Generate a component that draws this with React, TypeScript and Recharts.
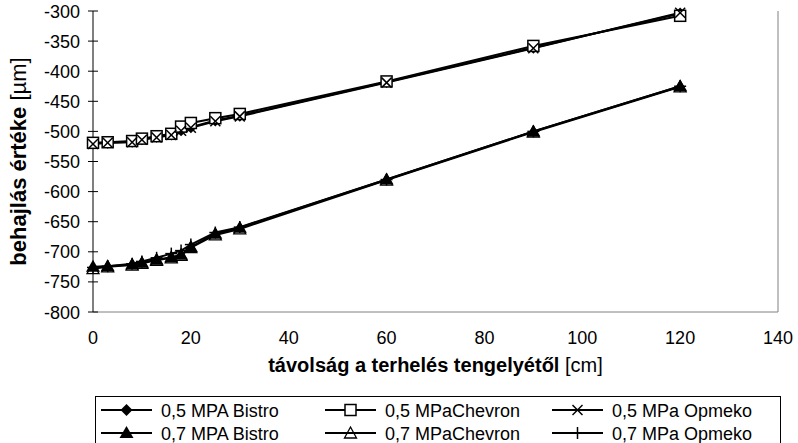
import { LineChart, Line, XAxis, YAxis, ReferenceLine, Label } from 'recharts';

// distance from the load axis [cm]
const distances = [0, 3, 8, 10, 13, 16, 18, 20, 25, 30, 60, 90, 120];

// deflection [µm]
const bistro05 = [-520, -519, -517, -513, -509, -505, -498, -493, -482, -474, -418, -361, -304];
const chevron05 = [-519, -518, -516, -512, -508, -504, -492, -486, -478, -471, -417, -358, -308];
const opmeko05 = [-521, -519, -518, -514, -510, -506, -499, -494, -483, -475, -419, -362, -303];
const bistro07 = [-725, -724, -721, -718, -713, -709, -705, -692, -670, -660, -580, -500, -425];
const chevron07 = [-728, -725, -722, -719, -714, -710, -706, -693, -672, -662, -581, -501, -426];
const opmeko07 = [-726, -724, -720, -716, -710, -703, -698, -688, -668, -659, -580, -500, -425];

const xTicks = [0, 20, 40, 60, 80, 100, 120, 140];
const yTicks = [-800, -750, -700, -650, -600, -550, -500, -450, -400, -350, -300];

const data = distances.map((d, i) => ({
  d,
  b05: bistro05[i],
  c05: chevron05[i],
  o05: opmeko05[i],
  b07: bistro07[i],
  c07: chevron07[i],
  o07: opmeko07[i],
}));

const FONT = 'Arial, "Liberation Sans", sans-serif';
const FS = 18;

type Kind = 'diamond' | 'square' | 'cross' | 'triangle' | 'openTriangle' | 'plus';

function Marker({ kind, cx, cy }: { kind: Kind; cx: number; cy: number }) {
  switch (kind) {
    case 'diamond':
      return <polygon points={`${cx},${cy - 6} ${cx + 6},${cy} ${cx},${cy + 6} ${cx - 6},${cy}`} fill="#000" />;
    case 'square':
      return <rect x={cx - 5.5} y={cy - 5.5} width={11} height={11} fill="#fff" stroke="#000" strokeWidth={1.5} />;
    case 'cross':
      return (
        <g stroke="#000" strokeWidth={1.5}>
          <line x1={cx - 5} y1={cy - 5} x2={cx + 5} y2={cy + 5} />
          <line x1={cx - 5} y1={cy + 5} x2={cx + 5} y2={cy - 5} />
        </g>
      );
    case 'triangle':
      return <polygon points={`${cx},${cy - 7} ${cx + 7},${cy + 5} ${cx - 7},${cy + 5}`} fill="#000" />;
    case 'openTriangle':
      return (
        <polygon
          points={`${cx},${cy - 6} ${cx + 6},${cy + 5} ${cx - 6},${cy + 5}`}
          fill="none"
          stroke="#000"
          strokeWidth={1.3}
        />
      );
    default:
      return (
        <g stroke="#000" strokeWidth={1.5}>
          <line x1={cx - 6} y1={cy} x2={cx + 6} y2={cy} />
          <line x1={cx} y1={cy - 6} x2={cx} y2={cy + 6} />
        </g>
      );
  }
}

const dotOf = (kind: Kind) => (props: any) => (
  <g key={`${kind}-${props.index}`}>
    <Marker kind={kind} cx={props.cx} cy={props.cy} />
  </g>
);

const series: { key: string; name: string; kind: Kind }[] = [
  { key: 'b05', name: '0,5 MPA Bistro', kind: 'diamond' },
  { key: 'c05', name: '0,5 MPaChevron', kind: 'square' },
  { key: 'o05', name: '0,5 MPa Opmeko', kind: 'cross' },
  { key: 'b07', name: '0,7 MPA Bistro', kind: 'triangle' },
  { key: 'c07', name: '0,7 MPaChevron', kind: 'openTriangle' },
  { key: 'o07', name: '0,7 MPa Opmeko', kind: 'plus' },
];

const YTick = (props: any) => {
  const { x, y, payload } = props;
  return (
    <g>
      <line x1={x - 5} x2={x + 5} y1={y} y2={y} stroke="#000" />
      <text x={x - 13} y={y + 6.5} textAnchor="end" fontFamily={FONT} fontSize={FS} fill="#000">
        {payload.value}
      </text>
    </g>
  );
};

const XTick = (props: any) => {
  const { x, y, payload } = props;
  return (
    <text x={x} y={y + 32} textAnchor="middle" fontFamily={FONT} fontSize={FS} fill="#000">
      {payload.value}
    </text>
  );
};

const TopTick = (props: any) => {
  const { x, y } = props;
  return <line x1={x} x2={x} y1={y - 5} y2={y + 5} stroke="#000" />;
};

// legend layout: two rows, three columns
const legendCols = [101, 325, 552];
const legendRows = [13, 36];

function LegendBox() {
  return (
    <div
      style={{
        position: 'absolute',
        left: 95,
        top: 396,
        width: 686,
        height: 60,
        border: '1px solid #000',
        boxSizing: 'border-box',
        background: '#fff',
      }}
    >
      <svg width={686} height={60}>
        {series.map((s, i) => {
          const col = legendCols[i % 3] - 96;
          const row = legendRows[Math.floor(i / 3)];
          return (
            <g key={s.key}>
              <line x1={col} x2={col + 51} y1={row} y2={row} stroke="#000" strokeWidth={2} />
              <Marker kind={s.kind} cx={col + 25.5} cy={row} />
              <text x={col + 60} y={row + 6.5} fontFamily={FONT} fontSize={FS} fill="#000">
                {s.name}
              </text>
            </g>
          );
        })}
      </svg>
    </div>
  );
}

export default function App() {
  return (
    <div style={{ position: 'absolute', left: 0, top: 0, width: 798, height: 443, overflow: 'hidden', background: '#fff' }}>
      <LineChart width={798} height={443} data={data} margin={{ top: 11, right: 20, bottom: 71, left: 0 }}>
        <XAxis
          dataKey="d"
          type="number"
          domain={[0, 140]}
          ticks={xTicks}
          axisLine={false}
          tickLine={false}
          tickSize={0}
          tickMargin={0}
          tick={<XTick />}
          height={60}
        >
          <Label
            content={(p: any) => {
              const vb = p.viewBox;
              return (
                <text x={vb.x + vb.width / 2} y={372} textAnchor="middle" fontFamily={FONT} fontSize={20} fill="#000">
                  <tspan fontWeight="bold">távolság a terhelés tengelyétől</tspan>
                  <tspan> [cm]</tspan>
                </text>
              );
            }}
          />
        </XAxis>
        <XAxis
          xAxisId="top"
          orientation="top"
          dataKey="d"
          type="number"
          domain={[0, 140]}
          ticks={xTicks}
          axisLine={{ stroke: '#000' }}
          tickLine={false}
          tickSize={0}
          tickMargin={0}
          tick={<TopTick />}
          height={0}
        />
        <YAxis
          type="number"
          domain={[-800, -300]}
          ticks={yTicks}
          axisLine={{ stroke: '#000' }}
          tickLine={false}
          tickSize={0}
          tickMargin={0}
          tick={<YTick />}
          width={93}
        >
          <Label
            content={(p: any) => {
              const vb = p.viewBox;
              const cy = vb.y + vb.height / 2;
              return (
                <text
                  x={18}
                  y={cy}
                  transform={`rotate(-90, 18, ${cy})`}
                  dy={7.5}
                  textAnchor="middle"
                  fontFamily={FONT}
                  fontSize={22}
                  fill="#000"
                >
                  <tspan fontWeight="bold">behajlás értéke</tspan>
                  <tspan> [µm]</tspan>
                </text>
              );
            }}
          />
        </YAxis>
        <ReferenceLine y={-800} stroke="#808080" />
        <ReferenceLine x={140} stroke="#808080" />
        {series.map((s) => (
          <Line
            key={s.key}
            dataKey={s.key}
            name={s.name}
            stroke="#000"
            strokeWidth={2}
            dot={dotOf(s.kind)}
            activeDot={false}
            isAnimationActive={false}
          />
        ))}
      </LineChart>
      <LegendBox />
    </div>
  );
}
